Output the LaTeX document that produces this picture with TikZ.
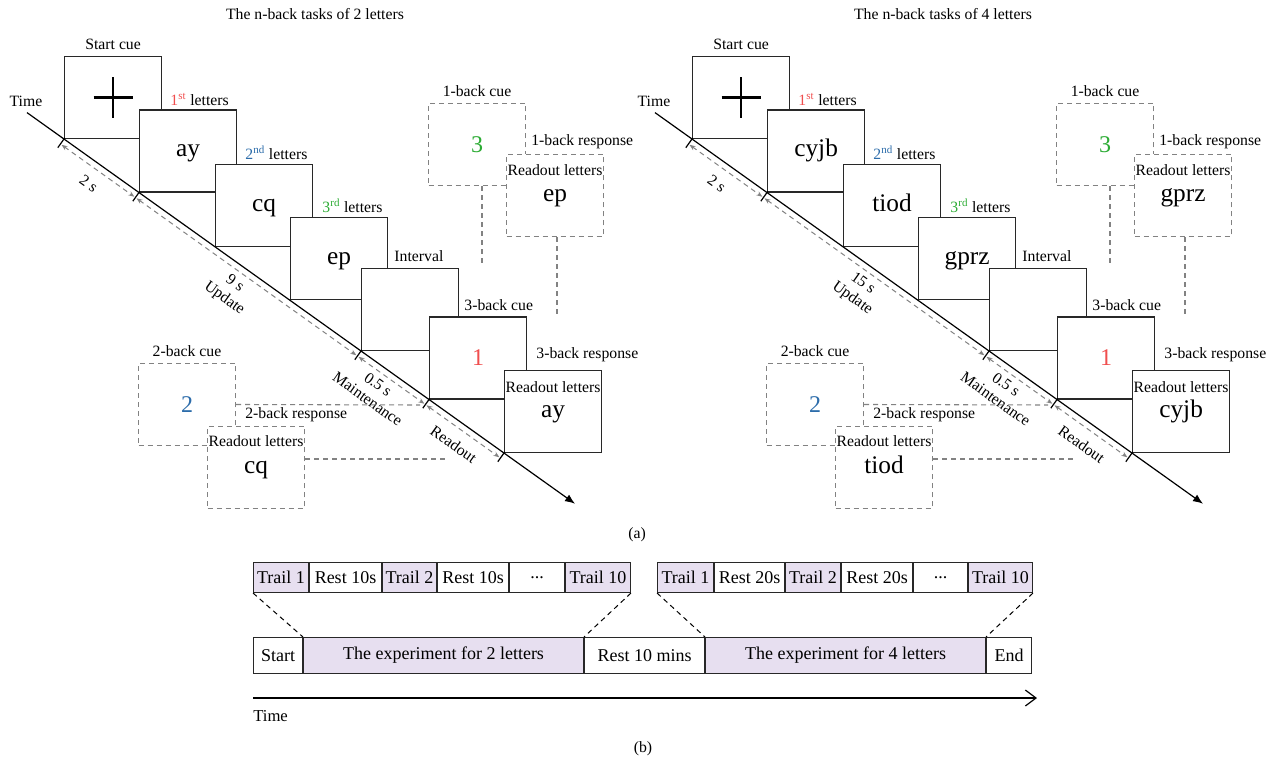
\documentclass[tikz,border=0pt]{standalone}
\usepackage{fontspec}
\setmainfont{Liberation Serif}
\usetikzlibrary{arrows.meta,calc}
\definecolor{nred}{RGB}{240,78,78}
\definecolor{nblue}{RGB}{44,108,170}
\definecolor{ngreen}{RGB}{44,172,52}
\definecolor{ngray}{RGB}{130,130,130}
\definecolor{nline}{RGB}{40,40,40}
\definecolor{nlilac}{RGB}{231,223,240}

\begin{document}
\begin{tikzpicture}[x=0.75pt, y=-0.75pt,
    every node/.style={font=\fontsize{11.8}{14}\selectfont},
    stimbox/.style={draw=nline, fill=white, line width=0.9pt, minimum width=72.75pt, minimum height=61.5pt, inner sep=0pt, anchor=south west},
    cuebox/.style={stimbox, draw=ngray, line width=0.8pt, dash pattern=on 3.75pt off 3pt},
    big/.style={font=\fontsize{19}{22}\selectfont, text height=8.7pt, text depth=0pt},
    digit/.style={font=\fontsize{18}{21}\selectfont},
    boxtag/.style={anchor=base, inner sep=0pt},
    steptag/.style={anchor=base west, inner sep=0pt},
    readtag/.style={anchor=north, inner sep=0pt},
    cross/.style={line width=2pt},
    timeline/.style={draw=black, line width=0.9pt, -{Latex[length=7.5pt,width=6pt]}},
    tick/.style={draw=black, line width=0.9pt},
    dur/.style={draw=ngray, line width=0.75pt, dash pattern=on 3.75pt off 3pt, {Stealth[length=4.5pt,width=3.5pt]}-{Stealth[length=4.5pt,width=3.5pt]}, shorten <=1pt, shorten >=1pt, transform canvas={shift={(-3.6,5)}}},
    durtag/.style={sloped, below, inner xsep=0pt, inner ysep=7.5pt, text=black},
    durtags/.style={sloped, below, align=center, inner xsep=0pt, inner ysep=4pt, text=black, font=\fontsize{11.8}{13.5}\selectfont},
    guide/.style={draw=ngray, line width=0.8pt, dash pattern=on 3.75pt off 3pt},
    cell/.style={draw=nline, line width=0.75pt, minimum height=22.5pt, inner sep=0pt, anchor=north west, font=\fontsize{13.5}{16}\selectfont},
    bigcell/.style={cell, minimum height=27pt},
    zoomline/.style={draw=black, line width=0.75pt, dash pattern=on 3.75pt off 3pt}]
  \useasboundingbox (0,0) rectangle (1287,769);

  % (a) n-back tasks of 2 letters
  \node (Ltitle) at (315,14) {The n-back tasks of 2 letters};
  \node[boxtag] (Ltime) at (26,106) {Time};
  \coordinate (Lt0) at (27,112.6);
  \coordinate (Lc1) at (64,139);
  \coordinate (Lc2) at (139,192.5);
  \coordinate (Lc3) at (215,246.8);
  \coordinate (Lc4) at (290,300.3);
  \coordinate (Lc5) at (361,351);
  \coordinate (Lc6) at (429,399.5);
  \coordinate (Lc7) at (504,453);
  \coordinate (Lte) at (575,503.7);

  \node[stimbox] (Lstart) at (Lc1) {};
  \draw[cross] ([xshift=-14.6pt]Lstart.center) -- ([xshift=14.6pt]Lstart.center);
  \draw[cross] ([yshift=-15.4pt]Lstart.center) -- ([yshift=15.4pt]Lstart.center);
  \node[boxtag] at ([yshift=4.5pt]Lstart.north) {Start cue};
  \node[stimbox, big] (Lfirst) at (Lc2) {ay};
  \node[steptag] at ($(Lstart.east |- Lfirst.north)+(8,-4)$) {\textcolor{nred}{1\textsuperscript{st}} letters};
  \node[stimbox, big] (Lsecond) at (Lc3) {cq};
  \node[steptag] at ($(Lfirst.east |- Lsecond.north)+(8,-4)$) {\textcolor{nblue}{2\textsuperscript{nd}} letters};
  \node[stimbox, big] (Lthird) at (Lc4) {ep};
  \node[steptag] at ($(Lsecond.east |- Lthird.north)+(9,-5)$) {\textcolor{ngreen}{3\textsuperscript{rd}} letters};
  \node[stimbox] (Linterval) at (Lc5) {};
  \node[steptag] at ($(Lthird.east |- Linterval.north)+(6,-6)$) {Interval};
  \node[stimbox, digit, text=nred] (Lcue3) at (Lc6) {1};
  \node[steptag] at ($(Linterval.east |- Lcue3.north)+(5,-6)$) {3-back cue};
  \node[stimbox, big] (Lresp3) at (Lc7) {ay};
  \node[readtag] at ([yshift=-8.5pt]Lresp3.north) {Readout letters};
  \node[steptag] at ($(Lcue3.east |- Lresp3.north)+(9,-11)$) {3-back response};

  \draw[timeline] (Lt0) to (Lte);
  \draw[tick] ($(Lc1)!-1pt!-90:(Lte)$) -- ($(Lc1)!8pt!-90:(Lte)$);
  \draw[tick] ($(Lc2)!-1pt!-90:(Lte)$) -- ($(Lc2)!8pt!-90:(Lte)$);
  \draw[tick] ($(Lc5)!-1pt!-90:(Lte)$) -- ($(Lc5)!8pt!-90:(Lte)$);
  \draw[tick] ($(Lc6)!-1pt!-90:(Lte)$) -- ($(Lc6)!8pt!-90:(Lte)$);
  \draw[tick] ($(Lc7)!-1pt!-90:(Lte)$) -- ($(Lc7)!8pt!-90:(Lte)$);
  \draw[dur] (Lc1) to node[durtag] {2 s} (Lc2);
  \draw[dur] (Lc2) to node[durtags, pos=0.48] {9 s\\Update} (Lc5);
  \draw[dur] (Lc5) to node[durtags, pos=0.4] {0.5 s\\Maintenance} (Lc6);
  \draw[dur] (Lc6) to node[durtag] {Readout} (Lc7);

  \node[cuebox, digit, text=ngreen] (Lcue1) at (428,186) {3};
  \node[boxtag] at ([yshift=4.5pt]Lcue1.north) {1-back cue};
  \node[cuebox, big] (Lresp1) at (506,237) {ep};
  \node[readtag] at ([yshift=-7.5pt]Lresp1.north) {Readout letters};
  \node[steptag] at ($(Lcue1.east |- Lresp1.north)+(5,-8)$) {1-back response};
  \node[cuebox, digit, text=nblue] (Lcue2) at (138,446) {2};
  \node[boxtag] at ([yshift=4.5pt]Lcue2.north) {2-back cue};
  \node[cuebox, big] (Lresp2) at (207,509) {cq};
  \node[readtag] at ([yshift=-7pt]Lresp2.north) {Readout letters};
  \node[steptag] at ($(Lcue2.east |- Lresp2.north)+(9,-7)$) {2-back response};

  \coordinate (Lg1) at (482,267);
  \coordinate (Lg1r) at (557,317);
  \coordinate (Lg2) at (420,405);
  \coordinate (Lg2r) at (448,459);
  \draw[guide] (Lg1 |- Lcue1.south) to (Lg1);
  \draw[guide] (Lg1r |- Lresp1.south) to (Lg1r);
  \draw[guide] (Lcue2.east) to (Lg2);
  \draw[guide] (Lg2r -| Lresp2.east) to (Lg2r);

  % (a) n-back tasks of 4 letters
  \begin{scope}[xshift=471pt]
    \node (Rtitle) at (315,14) {The n-back tasks of 4 letters};
    \node[boxtag] (Rtime) at (26,106) {Time};
    \coordinate (Rt0) at (27,112.6);
    \coordinate (Rc1) at (64,139);
    \coordinate (Rc2) at (139,192.5);
    \coordinate (Rc3) at (215,246.8);
    \coordinate (Rc4) at (290,300.3);
    \coordinate (Rc5) at (361,351);
    \coordinate (Rc6) at (429,399.5);
    \coordinate (Rc7) at (504,453);
    \coordinate (Rte) at (575,503.7);

    \node[stimbox] (Rstart) at (Rc1) {};
    \draw[cross] ([xshift=-14.6pt]Rstart.center) -- ([xshift=14.6pt]Rstart.center);
    \draw[cross] ([yshift=-15.4pt]Rstart.center) -- ([yshift=15.4pt]Rstart.center);
    \node[boxtag] at ([yshift=4.5pt]Rstart.north) {Start cue};
    \node[stimbox, big] (Rfirst) at (Rc2) {cyjb};
    \node[steptag] at ($(Rstart.east |- Rfirst.north)+(8,-4)$) {\textcolor{nred}{1\textsuperscript{st}} letters};
    \node[stimbox, big] (Rsecond) at (Rc3) {tiod};
    \node[steptag] at ($(Rfirst.east |- Rsecond.north)+(8,-4)$) {\textcolor{nblue}{2\textsuperscript{nd}} letters};
    \node[stimbox, big] (Rthird) at (Rc4) {gprz};
    \node[steptag] at ($(Rsecond.east |- Rthird.north)+(9,-5)$) {\textcolor{ngreen}{3\textsuperscript{rd}} letters};
    \node[stimbox] (Rinterval) at (Rc5) {};
    \node[steptag] at ($(Rthird.east |- Rinterval.north)+(6,-6)$) {Interval};
    \node[stimbox, digit, text=nred] (Rcue3) at (Rc6) {1};
    \node[steptag] at ($(Rinterval.east |- Rcue3.north)+(5,-6)$) {3-back cue};
    \node[stimbox, big] (Rresp3) at (Rc7) {cyjb};
    \node[readtag] at ([yshift=-8.5pt]Rresp3.north) {Readout letters};
    \node[steptag] at ($(Rcue3.east |- Rresp3.north)+(9,-11)$) {3-back response};

    \draw[timeline] (Rt0) to (Rte);
    \draw[tick] ($(Rc1)!-1pt!-90:(Rte)$) -- ($(Rc1)!8pt!-90:(Rte)$);
    \draw[tick] ($(Rc2)!-1pt!-90:(Rte)$) -- ($(Rc2)!8pt!-90:(Rte)$);
    \draw[tick] ($(Rc5)!-1pt!-90:(Rte)$) -- ($(Rc5)!8pt!-90:(Rte)$);
    \draw[tick] ($(Rc6)!-1pt!-90:(Rte)$) -- ($(Rc6)!8pt!-90:(Rte)$);
    \draw[tick] ($(Rc7)!-1pt!-90:(Rte)$) -- ($(Rc7)!8pt!-90:(Rte)$);
    \draw[dur] (Rc1) to node[durtag] {2 s} (Rc2);
    \draw[dur] (Rc2) to node[durtags, pos=0.48] {15 s\\Update} (Rc5);
    \draw[dur] (Rc5) to node[durtags, pos=0.4] {0.5 s\\Maintenance} (Rc6);
    \draw[dur] (Rc6) to node[durtag] {Readout} (Rc7);

    \node[cuebox, digit, text=ngreen] (Rcue1) at (428,186) {3};
    \node[boxtag] at ([yshift=4.5pt]Rcue1.north) {1-back cue};
    \node[cuebox, big] (Rresp1) at (506,237) {gprz};
    \node[readtag] at ([yshift=-7.5pt]Rresp1.north) {Readout letters};
    \node[steptag] at ($(Rcue1.east |- Rresp1.north)+(5,-8)$) {1-back response};
    \node[cuebox, digit, text=nblue] (Rcue2) at (138,446) {2};
    \node[boxtag] at ([yshift=4.5pt]Rcue2.north) {2-back cue};
    \node[cuebox, big] (Rresp2) at (207,509) {tiod};
    \node[readtag] at ([yshift=-7pt]Rresp2.north) {Readout letters};
    \node[steptag] at ($(Rcue2.east |- Rresp2.north)+(9,-7)$) {2-back response};

    \coordinate (Rg1) at (482,267);
    \coordinate (Rg1r) at (557,317);
    \coordinate (Rg2) at (420,405);
    \coordinate (Rg2r) at (448,459);
    \draw[guide] (Rg1 |- Rcue1.south) to (Rg1);
    \draw[guide] (Rg1r |- Rresp1.south) to (Rg1r);
    \draw[guide] (Rcue2.east) to (Rg2);
    \draw[guide] (Rg2r -| Rresp2.east) to (Rg2r);
  \end{scope}

  \node (alab) at (637,535) {(a)};

  % (b) whole experiment
  \node[cell, fill=nlilac, minimum width=41.25pt] (Ltr1) at (253,562) {Trail 1};
  \node[cell, minimum width=54pt] (Lrest1) at (Ltr1.north east) {Rest 10s};
  \node[cell, fill=nlilac, minimum width=40.5pt] (Ltr2) at (Lrest1.north east) {Trail 2};
  \node[cell, minimum width=53.25pt] (Lrest2) at (Ltr2.north east) {Rest 10s};
  \node[cell, minimum width=41.25pt] (Ldots) at (Lrest2.north east) {...};
  \node[cell, fill=nlilac, minimum width=48.75pt] (Ltr10) at (Ldots.north east) {Trail 10};

  \node[cell, fill=nlilac, minimum width=42pt] (Rtr1) at (657,562) {Trail 1};
  \node[cell, minimum width=52.5pt] (Rrest1) at (Rtr1.north east) {Rest 20s};
  \node[cell, fill=nlilac, minimum width=41.25pt] (Rtr2) at (Rrest1.north east) {Trail 2};
  \node[cell, minimum width=53.25pt] (Rrest2) at (Rtr2.north east) {Rest 20s};
  \node[cell, minimum width=40.5pt] (Rdots) at (Rrest2.north east) {...};
  \node[cell, fill=nlilac, minimum width=48pt] (Rtr10) at (Rdots.north east) {Trail 10};

  \node[bigcell, minimum width=36.75pt] (Bstart) at (253,637) {Start};
  \node[bigcell, fill=nlilac, minimum width=210pt] (Bexp2) at (Bstart.north east) {The experiment for 2 letters};
  \node[bigcell, minimum width=90pt] (Brest) at (Bexp2.north east) {Rest 10 mins};
  \node[bigcell, fill=nlilac, minimum width=210pt] (Bexp4) at (Brest.north east) {The experiment for 4 letters};
  \node[bigcell, minimum width=33.75pt] (Bend) at (Bexp4.north east) {End};

  \draw[zoomline] (Ltr1.south west) to (Bexp2.north west);
  \draw[zoomline] (Ltr10.south east) to (Bexp2.north east);
  \draw[zoomline] (Rtr1.south west) to (Bexp4.north west);
  \draw[zoomline] (Rtr10.south east) to (Bexp4.north east);

  \coordinate (Bt0) at (253,698);
  \coordinate (Bt1) at (1037,698);
  \draw[line width=0.9pt, -{Straight Barb[length=8pt,width=12pt]}] (Bt0) to (Bt1);
  \node[anchor=base west, inner sep=0pt, font=\fontsize{12.5}{15}\selectfont] (Btime) at (253,721) {Time};

  \node (blab) at (643,749) {(b)};
\end{tikzpicture}
\end{document}
